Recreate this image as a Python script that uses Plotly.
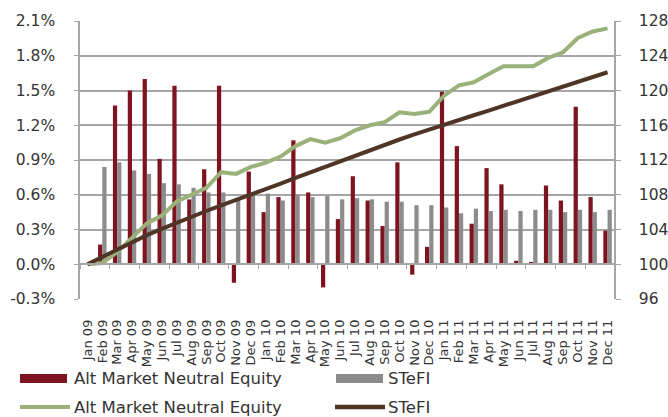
import plotly.graph_objects as go

months = ['Jan 09', 'Feb 09', 'Mar 09', 'Apr 09', 'May 09', 'Jun 09', 'Jul 09', 'Aug 09',
          'Sep 09', 'Oct 09', 'Nov 09', 'Dec 09', 'Jan 10', 'Feb 10', 'Mar 10', 'Apr 10',
          'May 10', 'Jun 10', 'Jul 10', 'Aug 10', 'Sep 10', 'Oct 10', 'Nov 10', 'Dec 10',
          'Jan 11', 'Feb 11', 'Mar 11', 'Apr 11', 'May 11', 'Jun 11', 'Jul 11', 'Aug 11',
          'Sep 11', 'Oct 11', 'Nov 11', 'Dec 11']

# monthly returns (%), left axis
alt_ret = [None, 0.17, 1.37, 1.50, 1.60, 0.91, 1.54, 0.56, 0.82, 1.54, -0.16, 0.80,
           0.45, 0.58, 1.07, 0.62, -0.20, 0.39, 0.76, 0.55, 0.33, 0.88, -0.09, 0.15,
           1.49, 1.02, 0.35, 0.83, 0.69, 0.03, 0.02, 0.68, 0.55, 1.36, 0.58, 0.29]
stefi_ret = [None, 0.84, 0.88, 0.81, 0.78, 0.70, 0.69, 0.66, 0.62, 0.62, 0.56, 0.60,
             0.61, 0.55, 0.60, 0.58, 0.59, 0.56, 0.57, 0.56, 0.54, 0.54, 0.51, 0.51,
             0.49, 0.44, 0.48, 0.46, 0.47, 0.46, 0.47, 0.47, 0.45, 0.47, 0.45, 0.47]

# cumulative index, right axis
alt_idx = [100.0, 100.15, 101.4, 103.0, 104.7, 105.6, 107.2, 108.0, 108.8, 110.6, 110.4, 111.2,
           111.7, 112.4, 113.6, 114.4, 114.0, 114.5, 115.4, 116.0, 116.35, 117.5, 117.3, 117.55,
           119.4, 120.6, 120.95, 121.9, 122.8, 122.8, 122.8, 123.75, 124.4, 126.05, 126.8, 127.15]
stefi_idx = [100.0, 100.84, 101.73, 102.55, 103.35, 104.07, 104.79, 105.48, 106.13, 106.79, 107.39, 108.03,
             108.69, 109.29, 109.95, 110.59, 111.24, 111.86, 112.50, 113.13, 113.74, 114.36, 114.94, 115.52,
             116.09, 116.6, 117.15, 117.69, 118.24, 118.78, 119.33, 119.89, 120.43, 121.0, 121.54, 122.1]

left_tickvals = [-0.3, 0.0, 0.3, 0.6, 0.9, 1.2, 1.5, 1.8, 2.1]
left_ticktext = ['-0.3%', '0.0%', '0.3%', '0.6%', '0.9%', '1.2%', '1.5%', '1.8%', '2.1%']
right_tickvals = [96, 100, 104, 108, 112, 116, 120, 124, 128]

series_names = ['Alt Market Neutral Equity', 'STeFI']

RED = '#7E1420'
GRAY = '#8C8C8C'
GREEN = '#9AB27A'
BROWN = '#4F3526'
GRID = '#A6A6A6'
TXT = '#333333'
FONT = 'DejaVu Sans'

W, H = 668, 417
ML, MR, MT, MB = 80, 53, 21, 118
PW, PH = W - ML - MR, H - MT - MB


def px_x(p):
    return (p - ML) / PW


def px_y(p):
    return (H - MB - p) / PH


fig = go.Figure()
fig.add_trace(go.Bar(x=months, y=alt_ret, name=series_names[0], marker_color=RED,
                     marker_line_width=0, xaxis='x', yaxis='y', showlegend=False))
fig.add_trace(go.Bar(x=months, y=stefi_ret, name=series_names[1], marker_color=GRAY,
                     marker_line_width=0, xaxis='x', yaxis='y', showlegend=False))
fig.add_trace(go.Scatter(x=months, y=alt_idx, name=series_names[0], mode='lines',
                         line=dict(color=GREEN, width=4), xaxis='x2', yaxis='y2', showlegend=False))
fig.add_trace(go.Scatter(x=months, y=stefi_idx, name=series_names[1], mode='lines',
                         line=dict(color=BROWN, width=4), xaxis='x2', yaxis='y2', showlegend=False))

ymin, ymax = left_tickvals[0], left_tickvals[-1]
zero_pos = (0 - ymin) / (ymax - ymin)

fig.update_layout(
    width=W, height=H,
    margin=dict(l=ML, r=MR, t=MT, b=MB, pad=0, autoexpand=False),
    paper_bgcolor='white', plot_bgcolor='white',
    barmode='group', bargap=0.43, bargroupgap=0,
    font=dict(family=FONT, color=TXT, size=15),
    xaxis=dict(type='category', categoryorder='array', categoryarray=months,
               range=[-0.5, len(months) - 0.5], showgrid=False, showline=False, zeroline=False,
               tickmode='array', tickvals=months, ticktext=months,
               ticks='', tickangle=-90, tickfont=dict(size=13, family=FONT, color=TXT),
               ticklabelstandoff=17, automargin=False),
    xaxis2=dict(type='category', categoryorder='array', categoryarray=months,
                range=[-0.5, len(months) - 0.5], overlaying='x', anchor='free', position=zero_pos,
                showgrid=False, zeroline=False, showline=True, linecolor=GRID, linewidth=1.5,
                ticks='outside', tickson='boundaries', ticklen=4, tickcolor=GRID, tickwidth=1,
                showticklabels=False, automargin=False),
    yaxis=dict(range=[ymin, ymax], tickvals=left_tickvals, ticktext=left_ticktext,
               showgrid=True, gridcolor=GRID, gridwidth=1.5, zeroline=False,
               showline=True, linecolor=GRID, linewidth=1.5,
               ticks='outside', ticklen=4, tickcolor=GRID,
               tickfont=dict(size=15.5, family=FONT, color=TXT), ticklabelstandoff=16,
               automargin=False),
    yaxis2=dict(range=[right_tickvals[0], right_tickvals[-1]], tickvals=right_tickvals,
                overlaying='y', side='right', anchor='free', position=1,
                showgrid=False, zeroline=False, showline=True, linecolor=GRID, linewidth=1.5,
                ticks='outside', ticklen=5, tickcolor=GRID,
                tickfont=dict(size=15.5, family=FONT, color=TXT), ticklabelstandoff=15,
                automargin=False),
)

# legend (Excel style, two rows)
leg_font = dict(size=16.5, family=FONT, color=TXT)
shapes = [
    dict(type='rect', xref='paper', yref='paper', x0=px_x(20), x1=px_x(67),
         y0=px_y(383), y1=px_y(374), fillcolor=RED, line=dict(width=0)),
    dict(type='rect', xref='paper', yref='paper', x0=px_x(336), x1=px_x(383),
         y0=px_y(383), y1=px_y(374), fillcolor=GRAY, line=dict(width=0)),
    dict(type='line', xref='paper', yref='paper', x0=px_x(20), x1=px_x(70),
         y0=px_y(407), y1=px_y(407), line=dict(color=GREEN, width=4)),
    dict(type='line', xref='paper', yref='paper', x0=px_x(335), x1=px_x(385),
         y0=px_y(407), y1=px_y(407), line=dict(color=BROWN, width=4.5)),
]
annotations = [
    dict(text=series_names[0], xref='paper', yref='paper', x=px_x(72), y=px_y(378),
         xanchor='left', yanchor='middle', showarrow=False, font=leg_font),
    dict(text=series_names[1], xref='paper', yref='paper', x=px_x(386), y=px_y(378),
         xanchor='left', yanchor='middle', showarrow=False, font=leg_font),
    dict(text=series_names[0], xref='paper', yref='paper', x=px_x(72), y=px_y(407),
         xanchor='left', yanchor='middle', showarrow=False, font=leg_font),
    dict(text=series_names[1], xref='paper', yref='paper', x=px_x(386), y=px_y(407),
         xanchor='left', yanchor='middle', showarrow=False, font=leg_font),
]
fig.update_layout(shapes=shapes, annotations=annotations)

fig.write_html('out.html', config={'displayModeBar': False},
               post_script="document.body.style.margin='0';document.body.style.overflow='hidden';")
